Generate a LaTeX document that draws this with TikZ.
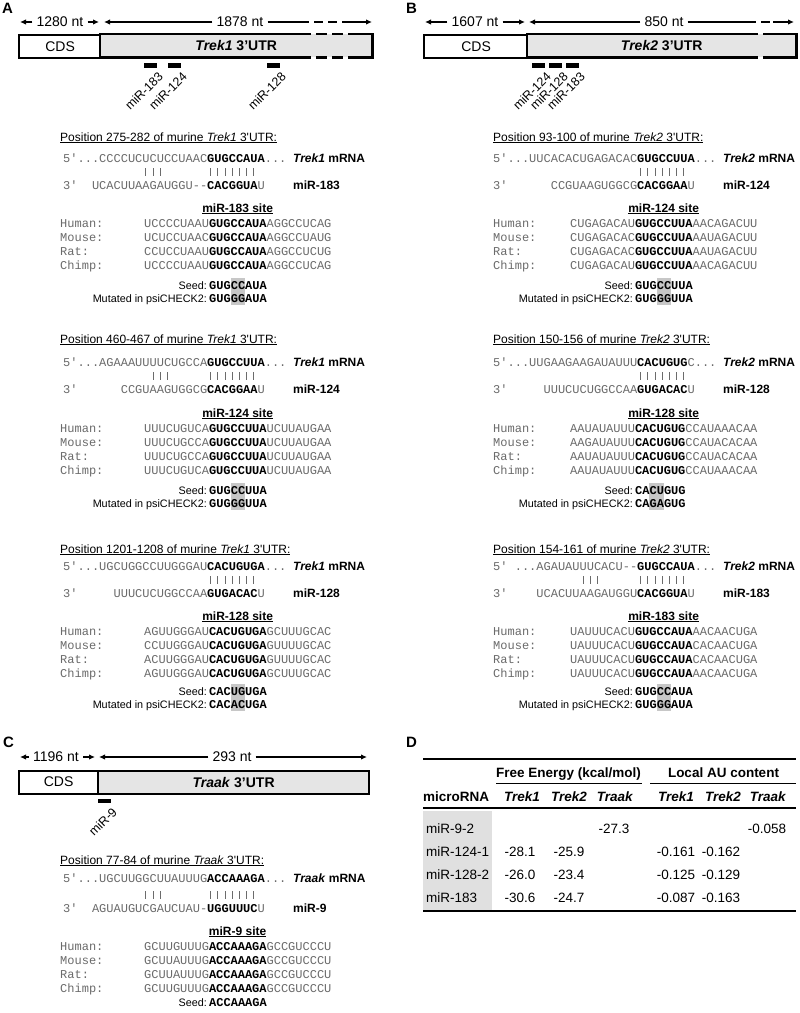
\documentclass[tikz,border=0pt]{standalone}
\usepackage{fontspec}
\setmainfont{Liberation Sans}
\setsansfont{Liberation Sans}
\setmonofont{Liberation Mono}
\usetikzlibrary{arrows.meta}
\definecolor{seqgray}{gray}{0.42}
\definecolor{utrgray}{gray}{0.9}
\definecolor{seedgray}{gray}{0.78}
\definecolor{rowgray}{gray}{0.88}
\newcommand{\bsite}[1]{{\color{black}\bfseries #1}}
\tikzset{
    panel/.style={font=\fontsize{15}{18}\selectfont\bfseries, anchor=north west, inner sep=0pt},
    ntlabel/.style={font=\fontsize{14}{16}\selectfont, inner sep=4pt},
    ntline/.style={line width=1.3pt},
    ntarrow/.style={ntline, -{Latex[length=6pt, width=5.5pt]}},
    linedash/.style={dash pattern=on 9pt off 5pt},
    cdsbox/.style={draw, line width=2.2pt, fill=white, anchor=north west, minimum height=23pt, inner sep=0pt, font=\fontsize{14}{16}\selectfont},
    utrbox/.style={fill=utrgray, anchor=north west, minimum height=23pt, inner sep=0pt, font=\fontsize{14}{16}\selectfont\bfseries},
    boxline/.style={line width=2.2pt},
    boxdash/.style={dash pattern=on 11pt off 5pt},
    sitebar/.style={fill=black, anchor=north west, minimum width=13pt, minimum height=4.5pt, inner sep=0pt},
    mirlabel/.style={font=\fontsize{12.5}{14}\selectfont, rotate=45, anchor=north east, inner sep=0pt},
    postitle/.style={font=\fontsize{12}{14}\selectfont, anchor=base west, inner sep=0pt},
    seqline/.style={font=\fontsize{12}{14}\selectfont\ttfamily, text=seqgray, anchor=base west, inner sep=0pt},
    pairbar/.style={draw=seqgray, line width=0.7pt},
    duplexname/.style={font=\fontsize{12}{14}\selectfont\bfseries, anchor=base west, inner sep=0pt},
    sitehead/.style={font=\fontsize{12}{14}\selectfont\bfseries, anchor=base, inner sep=0pt},
    seedlabel/.style={font=\fontsize{10.8}{13}\selectfont, anchor=base east, inner sep=0pt},
    seedseq/.style={font=\fontsize{12}{14}\selectfont\ttfamily\bfseries, anchor=base west, inner sep=0pt},
    seedmark/.style={fill=seedgray},
    tabhead/.style={font=\fontsize{13.5}{16}\selectfont\bfseries, anchor=base, inner sep=0pt},
    tabcell/.style={font=\fontsize{13.5}{16}\selectfont, anchor=base, inner sep=0pt},
    tabrule/.style={line width=2.5pt},
    subrule/.style={line width=0.8pt}
}

\begin{document}
\begin{tikzpicture}[x=1pt, y=-1pt]

    \path[fill=white] (0,0) rectangle (800,1013);

    % miRNA site on the gene map: name, left, top, label
    \def\mirsite#1#2#3#4{
        \node[sitebar] (#1) at (#2,#3) {};
        \node[mirlabel] (#1-lab) at ([xshift=0pt, yshift=-3pt]#1.south east) {#4};
    }
    % duplex: name, x, y, 5' line, 3' line, paired bases, gene, miRNA, gap to 3' line
    \def\duplex#1#2#3#4#5#6#7#8#9{
        \node[seqline] (#1-top) at (#2,#3) {#4};
        \node[seqline] (#1-bot) at (#2,#3+#9) {#5};
        \foreach \p in {#6}
            \draw[pairbar] (#2+7.2*\p+3.6,#3+#9-21) -- ++(0,8);
        \node[duplexname] (#1-mrna) at (#2+230,#3) {\textit{#7} mRNA};
        \node[duplexname] (#1-mir) at (#2+230,#3+#9) {#8};
    }
    % conservation rows: name, species x, sequence x, heading y, heading, rows
    \def\orthologs#1#2#3#4#5#6{
        \node[sitehead] (#1-head) at (#3+93.6,#4) {\underline{#5}};
        \foreach \sp/\sq [count=\k] in {#6}{
            \node[seqline] (#1-\sp) at (#2,#4+0.7+14.3*\k) {\sp:};
            \node[seqline] (#1-\sp-seq) at (#3,#4+0.7+14.3*\k) {\sq};
        }
    }
    % seed and mutant: name, x, y, seed, mutant, first changed base
    \def\seedpair#1#2#3#4#5#6{
        \fill[seedmark] (#2+7.2*#6,#3-11) rectangle ++(14.4,27);
        \node[seedlabel] (#1-seedlab) at (#2-2,#3) {Seed:};
        \node[seedseq] (#1-seed) at (#2,#3) {#4};
        \node[seedlabel] (#1-mutlab) at (#2-2,#3+13) {Mutated in psiCHECK2:};
        \node[seedseq] (#1-mut) at (#2,#3+13) {#5};
    }

    % ---------------- Panel A ----------------
    \node[panel] (a-tag) at (2,3) {A};
    \node[ntlabel] (a-cdsnt) at (60,22) {1280 nt};
    \node[ntlabel] (a-utrnt) at (240,22) {1878 nt};
    \coordinate (a-l0) at (20,22);
    \coordinate (a-l1) at (99,22);
    \coordinate (a-l2) at (104,22);
    \coordinate (a-d0) at (300,22);
    \coordinate (a-d1) at (350,22);
    \coordinate (a-l3) at (372,22);
    \draw[ntarrow] (a-cdsnt) -- (a-l0);
    \draw[ntarrow] (a-cdsnt) -- (a-l1);
    \draw[ntarrow] (a-utrnt) -- (a-l2);
    \draw[ntline] (a-utrnt) -- (a-d0);
    \draw[ntline, linedash] (a-d0) -- (a-d1);
    \draw[ntarrow] (a-d1) -- (a-l3);
    \node[cdsbox, minimum width=82pt] (a-cds) at (18,34) {CDS};
    \node[utrbox, minimum width=272pt] (a-utr) at (100,34) {\textit{Trek1} 3’UTR};
    \draw[boxline] (a-d0 |- a-utr.north) -- (a-utr.north west) -- (a-utr.south west) -- (a-d0 |- a-utr.south);
    \draw[boxline] (a-d1 |- a-utr.north) -- (a-utr.north east) -- (a-utr.south east) -- (a-d1 |- a-utr.south);
    \draw[boxline, boxdash] (a-d0 |- a-utr.north) -- (a-d1 |- a-utr.north) (a-d0 |- a-utr.south) -- (a-d1 |- a-utr.south);
    \mirsite{a-m183}{144}{63}{miR-183}
    \mirsite{a-m124}{168}{63}{miR-124}
    \mirsite{a-m128}{267}{63}{miR-128}

    % Trek1 / miR-183
    \node[postitle] (a1-title) at (60,141) {\underline{Position 275-282 of murine \textit{Trek1} 3\textquotesingle UTR:}};
    \duplex{a1}{63}{162}{5'...CCCCUCUCUCCUAAC\bsite{GUGCCAUA}...}{3'~~UCACUUAAGAUGGU--\bsite{CACGGUA}U}{11,12,13,20,21,22,23,24,25,26}{Trek1}{miR-183}{27}
    \orthologs{a1}{60}{144}{212}{miR-183 site}{Human/UCCCCUAAU\bsite{GUGCCAUA}AGGCCUCAG, Mouse/UCUCCUAAC\bsite{GUGCCAUA}AGGCCUAUG, Rat/CCUCCUAAU\bsite{GUGCCAUA}AGGCCUCUG, Chimp/UCCCCUAAU\bsite{GUGCCAUA}AGGCCUCAG}
    \seedpair{a1}{209}{289}{GUGCCAUA}{GUGGGAUA}{3}

    % Trek1 / miR-124
    \node[postitle] (a2-title) at (60,343) {\underline{Position 460-467 of murine \textit{Trek1} 3\textquotesingle UTR:}};
    \duplex{a2}{63}{366}{5'...AGAAAUUUUCUGCCA\bsite{GUGCCUUA}...}{3'~~~~~~CCGUAAGUGGCG\bsite{CACGGAA}U}{12,13,14,20,21,22,23,24,25,26}{Trek1}{miR-124}{27}
    \orthologs{a2}{60}{144}{417}{miR-124 site}{Human/UUUCUGUCA\bsite{GUGCCUUA}UCUUAUGAA, Mouse/UUUCUGCCA\bsite{GUGCCUUA}UCUUAUGAA, Rat/UUUCUGCCA\bsite{GUGCCUUA}UCUUAUGAA, Chimp/UUUCUGUCA\bsite{GUGCCUUA}UCUUAUGAA}
    \seedpair{a2}{209}{494}{GUGCCUUA}{GUGGGUUA}{3}

    % Trek1 / miR-128
    \node[postitle] (a3-title) at (60,553) {\underline{Position 1201-1208 of murine \textit{Trek1} 3\textquotesingle UTR:}};
    \duplex{a3}{63}{570}{5'...UGCUGGCCUUGGGAU\bsite{CACUGUGA}...}{3'~~~~~UUUCUCUGGCCAA\bsite{GUGACAC}U}{20,...,26}{Trek1}{miR-128}{27}
    \orthologs{a3}{60}{144}{620}{miR-128 site}{Human/AGUUGGGAU\bsite{CACUGUGA}GCUUUGCAC, Mouse/CCUUGGGAU\bsite{CACUGUGA}GUUUUGCAC, Rat/ACUUGGGAU\bsite{CACUGUGA}GUUUUGCAC, Chimp/AGUUGGGAU\bsite{CACUGUGA}GCUUUGCAC}
    \seedpair{a3}{209}{695}{CACUGUGA}{CACACUGA}{3}

    % ---------------- Panel B ----------------
    \node[panel] (b-tag) at (406,3) {B};
    \node[ntlabel] (b-cdsnt) at (475,22) {1607 nt};
    \node[ntlabel] (b-utrnt) at (664,22) {850 nt};
    \coordinate (b-l0) at (425,22);
    \coordinate (b-l1) at (525,22);
    \coordinate (b-l2) at (529,22);
    \coordinate (b-d0) at (747,22);
    \coordinate (b-d1) at (773,22);
    \coordinate (b-l3) at (794,22);
    \draw[ntarrow] (b-cdsnt) -- (b-l0);
    \draw[ntarrow] (b-cdsnt) -- (b-l1);
    \draw[ntarrow] (b-utrnt) -- (b-l2);
    \draw[ntline] (b-utrnt) -- (b-d0);
    \draw[ntline, linedash] (b-d0) -- (b-d1);
    \draw[ntarrow] (b-d1) -- (b-l3);
    \node[cdsbox, minimum width=104pt] (b-cds) at (423,34) {CDS};
    \node[utrbox, minimum width=269pt] (b-utr) at (527,34) {\textit{Trek2} 3’UTR};
    \draw[boxline] (b-d0 |- b-utr.north) -- (b-utr.north west) -- (b-utr.south west) -- (b-d0 |- b-utr.south);
    \draw[boxline] (b-d1 |- b-utr.north) -- (b-utr.north east) -- (b-utr.south east) -- (b-d1 |- b-utr.south);
    \draw[boxline, boxdash] (b-d0 |- b-utr.north) -- (b-d1 |- b-utr.north) (b-d0 |- b-utr.south) -- (b-d1 |- b-utr.south);
    \mirsite{b-m124}{532}{63}{miR-124}
    \mirsite{b-m128}{549}{63}{miR-128}
    \mirsite{b-m183}{566}{63}{miR-183}

    % Trek2 / miR-124
    \node[postitle] (b1-title) at (493,141) {\underline{Position 93-100 of murine \textit{Trek2} 3\textquotesingle UTR:}};
    \duplex{b1}{493}{162}{5'...UUCACACUGAGACAC\bsite{GUGCCUUA}...}{3'~~~~~~CCGUAAGUGGCG\bsite{CACGGAA}U}{20,...,26}{Trek2}{miR-124}{27}
    \orthologs{b1}{493}{570}{212}{miR-124 site}{Human/CUGAGACAU\bsite{GUGCCUUA}AACAGACUU, Mouse/CUGAGACAC\bsite{GUGCCUUA}AAUAGACUU, Rat/CUGAGACAC\bsite{GUGCCUUA}AAUAGACUU, Chimp/CUGAGACAU\bsite{GUGCCUUA}AACAGACUU}
    \seedpair{b1}{635}{289}{GUGCCUUA}{GUGGGUUA}{3}

    % Trek2 / miR-128
    \node[postitle] (b2-title) at (493,343) {\underline{Position 150-156 of murine \textit{Trek2} 3\textquotesingle UTR:}};
    \duplex{b2}{493}{366}{5'...UUGAAGAAGAUAUUU\bsite{CACUGUG}C...}{3'~~~~~UUUCUCUGGCCAA\bsite{GUGACAC}U}{20,...,26}{Trek2}{miR-128}{27}
    \orthologs{b2}{493}{570}{417}{miR-128 site}{Human/AAUAUAUUU\bsite{CACUGUG}CCAUAAACAA, Mouse/AAGAUAUUU\bsite{CACUGUG}CCAUACACAA, Rat/AAUAUAUUU\bsite{CACUGUG}CCAUACACAA, Chimp/AAUAUAUUU\bsite{CACUGUG}CCAUAAACAA}
    \seedpair{b2}{635}{494}{CACUGUG}{CAGAGUG}{2}

    % Trek2 / miR-183
    \node[postitle] (b3-title) at (493,553) {\underline{Position 154-161 of murine \textit{Trek2} 3\textquotesingle UTR:}};
    \duplex{b3}{493}{570}{5'~...AGAUAUUUCACU--\bsite{GUGCCAUA}...}{3'~~~~UCACUUAAGAUGGU\bsite{CACGGUA}U}{12,13,14,20,21,22,23,24,25,26}{Trek2}{miR-183}{27}
    \orthologs{b3}{493}{570}{620}{miR-183 site}{Human/UAUUUCACU\bsite{GUGCCAUA}AACAACUGA, Mouse/UAUUUCACU\bsite{GUGCCAUA}CACAACUGA, Rat/UAUUUCACU\bsite{GUGCCAUA}CACAACUGA, Chimp/UAUUUCACU\bsite{GUGCCAUA}AACAACUGA}
    \seedpair{b3}{635}{695}{GUGCCAUA}{GUGGGAUA}{3}

    % ---------------- Panel C ----------------
    \node[panel] (c-tag) at (3,737) {C};
    \node[ntlabel] (c-cdsnt) at (56,757) {1196 nt};
    \node[ntlabel] (c-utrnt) at (232,757) {293 nt};
    \coordinate (c-l0) at (20,757);
    \coordinate (c-l1) at (95,757);
    \coordinate (c-l2) at (99,757);
    \coordinate (c-l3) at (367,757);
    \draw[ntarrow] (c-cdsnt) -- (c-l0);
    \draw[ntarrow] (c-cdsnt) -- (c-l1);
    \draw[ntarrow] (c-utrnt) -- (c-l2);
    \draw[ntarrow] (c-utrnt) -- (c-l3);
    \node[cdsbox, minimum width=79pt] (c-cds) at (18,769.5) {CDS};
    \node[utrbox, draw, boxline, minimum width=271pt] (c-utr) at (97,769.5) {\textit{Traak} 3’UTR};
    \mirsite{c-m9}{98}{798.5}{miR-9}

    % Traak / miR-9
    \node[postitle] (c1-title) at (60,864) {\underline{Position 77-84 of murine \textit{Traak} 3\textquotesingle UTR:}};
    \duplex{c1}{63}{882}{5'...UGCUUGGCUUAUUUG\bsite{ACCAAAGA}...}{3'~~AGUAUGUCGAUCUAU-\bsite{UGGUUUC}U}{11,12,13,20,21,22,23,24,25,26}{Traak}{miR-9}{30}
    \orthologs{c1}{60}{144}{935}{miR-9 site}{Human/GCUUGUUUG\bsite{ACCAAAGA}GCCGUCCCU, Mouse/GCUUAUUUG\bsite{ACCAAAGA}GCCGUCCCU, Rat/GCUUAUUUG\bsite{ACCAAAGA}GCCGUCCCU, Chimp/GCUUGUUUG\bsite{ACCAAAGA}GCCGUCCCU}
    \node[seedlabel] (c1-seedlab) at (207,1006) {Seed:};
    \node[seedseq] (c1-seed) at (209,1006) {ACCAAAGA};

    % ---------------- Panel D ----------------
    \node[panel] (d-tag) at (406,737) {D};
    \draw[tabrule] (423,759) -- (796,759);
    \node[tabhead] (d-fe) at (568.5,777) {Free Energy (kcal/mol)};
    \node[tabhead] (d-au) at (723.5,777) {Local AU content};
    \draw[subrule] (496,783.5) -- (642,783.5) (650,783.5) -- (796,783.5);
    \node[tabhead, anchor=base west] (d-mirna) at (423,801) {microRNA};
    \foreach \g/\cx [count=\c] in {Trek1/522, Trek2/569, Traak/615, Trek1/676, Trek2/723, Traak/768}
        \node[tabhead] (d-h\c) at (\cx,801) {\textit{\g}};
    \draw[tabrule] (423,808) -- (796,808);
    \fill[rowgray] (423,811) rectangle (492,910);
    \foreach \m/\va/\vb/\vc/\vd/\ve/\vf [count=\r] in {miR-9-2/{}/{}/-27.3/{}/{}/-0.058, miR-124-1/-28.1/-25.9/{}/-0.161/-0.162/{}, miR-128-2/-26.0/-23.4/{}/-0.125/-0.129/{}, miR-183/-30.6/-24.7/{}/-0.087/-0.163/{}}{
        \node[tabcell, anchor=base west] (d-r\r) at (426,809.7+23.3*\r) {\m};
        \node[tabcell] (d-r\r-1) at (520,809.7+23.3*\r) {\va};
        \node[tabcell] (d-r\r-2) at (569,809.7+23.3*\r) {\vb};
        \node[tabcell] (d-r\r-3) at (614,809.7+23.3*\r) {\vc};
        \node[tabcell] (d-r\r-4) at (676,809.7+23.3*\r) {\vd};
        \node[tabcell] (d-r\r-5) at (721,809.7+23.3*\r) {\ve};
        \node[tabcell] (d-r\r-6) at (767,809.7+23.3*\r) {\vf};
    }
    \draw[subrule, line width=1.5pt] (423,911) -- (796,911);

\end{tikzpicture}
\end{document}
